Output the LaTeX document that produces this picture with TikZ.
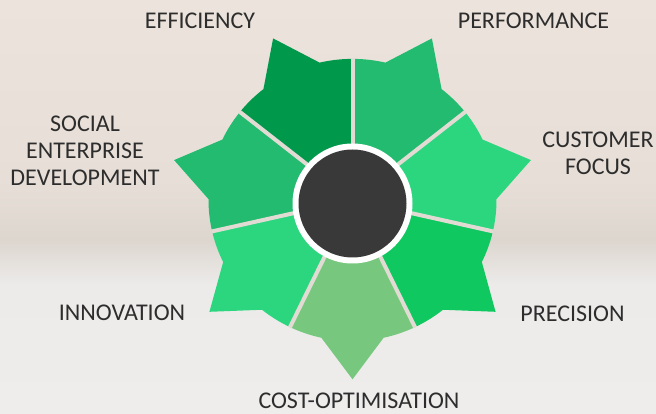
\documentclass[tikz,border=0pt]{standalone}
\usepackage{fontspec}
\setmainfont{Carlito}
\definecolor{cEff}{RGB}{0,153,76}
\definecolor{cPerf}{RGB}{34,187,111}
\definecolor{cCust}{RGB}{44,214,127}
\definecolor{cPrec}{RGB}{16,200,96}
\definecolor{cCost}{RGB}{119,200,126}
\definecolor{cInno}{RGB}{44,214,127}
\definecolor{cSoc}{RGB}{34,187,111}
\definecolor{gapc}{RGB}{226,219,212}
\definecolor{hub}{RGB}{57,57,57}
\definecolor{txt}{RGB}{45,45,45}
\definecolor{bgA}{RGB}{236,228,220}
\definecolor{bgB}{RGB}{231,223,215}
\definecolor{bgC}{RGB}{221,214,207}
\definecolor{bgD}{RGB}{236,235,234}
\definecolor{bgE}{RGB}{238,237,236}
\begin{document}
\begin{tikzpicture}[x=1pt,y=1pt,
  lbl/.style={text=txt,font=\fontsize{24}{27}\selectfont,inner sep=0pt,align=center},
  sep/.style={draw=gapc,line width=4pt}]
\useasboundingbox (0,0) rectangle (656,414);
% background bands
\shade[top color=bgA,bottom color=bgB] (0,234) rectangle (656,414);
\shade[top color=bgB,bottom color=bgC] (0,174) rectangle (656,234.2);
\shade[top color=bgC,bottom color=bgD] (0,129) rectangle (656,174.2);
\shade[top color=bgD,bottom color=bgE] (0,0) rectangle (656,129.2);
% star wheel
\begin{scope}[shift={(352.5,214)},yscale=0.98]
\foreach \k/\col in {0/cEff,1/cSoc,2/cInno,3/cCost,4/cPrec,5/cCust,6/cPerf}{
  \pgfmathsetmacro\aa{90+51.428571*\k}
  \pgfmathsetmacro\bb{\aa+51.428571}
  \pgfmathsetmacro\cc{\aa+25.714286}
  \pgfmathsetmacro\cl{\cc-12.5}
  \pgfmathsetmacro\cr{\cc+12.5}
  \fill[\col] (0,0) -- (\aa:144) arc[start angle=\aa,end angle=\cl,radius=144]
     -- (\cc:183) -- (\cr:144) arc[start angle=\cr,end angle=\bb,radius=144] -- cycle;
}
\foreach \k in {0,...,6}{
  \pgfmathsetmacro\aa{90+51.428571*\k}
  \draw[sep] (0,0) -- (\aa:144.5);
}
\end{scope}
\fill[white] (352.5,210.5) circle[radius=60];
\fill[hub] (352.5,210.5) circle[radius=54];
\node[lbl] (eff) at (200,393) {EFFICIENCY};
\node[lbl] (perf) at (533.5,393) {PERFORMANCE};
\node[lbl] (cust) at (598,260.5) {CUSTOMER\\FOCUS};
\node[lbl] (soc) at (85,263) {SOCIAL\\ENTERPRISE\\DEVELOPMENT};
\node[lbl] (inno) at (122,101.5) {INNOVATION};
\node[lbl] (prec) at (572.5,100) {PRECISION};
\node[lbl] (cost) at (359,13) {COST-OPTIMISATION};
\end{tikzpicture}
\end{document}
